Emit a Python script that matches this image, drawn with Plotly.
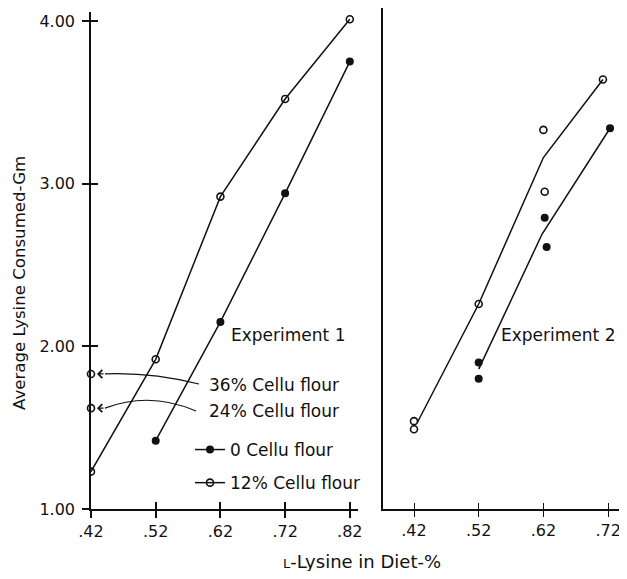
import plotly.graph_objects as go

# ---------------- data ----------------
lysine_exp1 = [0.42, 0.52, 0.62, 0.72, 0.82]
cellu0_exp1 = [None, 1.42, 2.15, 2.94, 3.75]
cellu12_exp1 = [1.23, 1.92, 2.92, 3.52, 4.01]
cellu36_x = [0.42]
cellu36_y = [1.83]
cellu24_x = [0.42]
cellu24_y = [1.62]

exp2_open_x = [0.42, 0.42, 0.52, 0.62, 0.622, 0.712]
exp2_open_y = [1.54, 1.49, 2.26, 3.33, 2.95, 3.64]
exp2_filled_x = [0.52, 0.52, 0.622, 0.625, 0.723]
exp2_filled_y = [1.90, 1.80, 2.79, 2.61, 3.34]
fit_upper_x = [0.425, 0.52, 0.62, 0.712]
fit_upper_y = [1.53, 2.26, 3.16, 3.64]
fit_lower_x = [0.52, 0.618, 0.723]
fit_lower_y = [1.86, 2.69, 3.34]

xticks_exp1 = [0.42, 0.52, 0.62, 0.72, 0.82]
xticks_exp2 = [0.42, 0.52, 0.62, 0.72]
xtick_text_exp1 = [".42", ".52", ".62", ".72", ".82"]
xtick_text_exp2 = [".42", ".52", ".62", ".72"]
yticks = [1.0, 2.0, 3.0, 4.0]
ytick_text = ["1.00", "2.00", "3.00", "4.00"]

# ---------------- layout helpers ----------------
W, H = 627, 579
OFF = 8  # page body margin offset
FW, FH = W - 2 * OFF, H - 2 * OFF
def px(p):
    return (p - OFF) / FW
def py(p):
    return 1 - (p - OFF) / FH

FONT = "DejaVu Sans, Liberation Sans, sans-serif"
BLACK = "#111111"

X_PER_UNIT = 647.0   # px per x unit
Y_PER_UNIT = 162.7   # px per y unit
X0_PX = 91          # .42 on left panel
Y0_PX = 509         # 1.00

def dx(p):
    return 0.42 + (p - X0_PX) / X_PER_UNIT
def dy(p):
    return 1.0 + (Y0_PX - p) / Y_PER_UNIT

fig = go.Figure()

line_style = dict(color=BLACK, width=1.5)
filled_marker = dict(symbol="circle", size=8, color=BLACK)
open_marker = dict(symbol="circle-open", size=7, color=BLACK, line=dict(width=1.6, color=BLACK))

# Experiment 1
fig.add_trace(go.Scatter(x=lysine_exp1, y=cellu0_exp1, mode="lines+markers",
                         line=line_style, marker=filled_marker, name="0 Cellu flour",
                         xaxis="x", yaxis="y", legendgroup="a"))
fig.add_trace(go.Scatter(x=lysine_exp1, y=cellu12_exp1, mode="lines+markers",
                         line=line_style, marker=open_marker, name="12% Cellu flour",
                         xaxis="x", yaxis="y", legendgroup="b"))
fig.add_trace(go.Scatter(x=cellu36_x, y=cellu36_y, mode="markers", marker=open_marker,
                         name="36% Cellu flour", showlegend=False, xaxis="x", yaxis="y",
                         cliponaxis=False))
fig.add_trace(go.Scatter(x=cellu24_x, y=cellu24_y, mode="markers", marker=open_marker,
                         name="24% Cellu flour", showlegend=False, xaxis="x", yaxis="y",
                         cliponaxis=False))

# Experiment 2
fig.add_trace(go.Scatter(x=fit_upper_x, y=fit_upper_y, mode="lines", line=line_style,
                         showlegend=False, xaxis="x2", yaxis="y2"))
fig.add_trace(go.Scatter(x=fit_lower_x, y=fit_lower_y, mode="lines", line=line_style,
                         showlegend=False, xaxis="x2", yaxis="y2"))
fig.add_trace(go.Scatter(x=exp2_open_x, y=exp2_open_y, mode="markers", marker=open_marker,
                         showlegend=False, xaxis="x2", yaxis="y2"))
fig.add_trace(go.Scatter(x=exp2_filled_x, y=exp2_filled_y, mode="markers", marker=filled_marker,
                         showlegend=False, xaxis="x2", yaxis="y2"))

# empty traces for overlay (inside-tick) axes
fig.add_trace(go.Scatter(x=[], y=[], xaxis="x3", yaxis="y3", showlegend=False))
fig.add_trace(go.Scatter(x=[], y=[], xaxis="x4", yaxis="y4", showlegend=False))

RIGHT_PX = OFF + FW  # right edge of what is visible
x1_range = [dx(91), dx(358)]
x2_range = [0.42 - (414 - 383) / X_PER_UNIT, 0.42 + (RIGHT_PX - 414) / X_PER_UNIT]
y1_range = [1.0, dy(12)]
y2_range = [1.0, dy(OFF)]
x1_dom = [px(91), px(358)]
x2_dom = [px(383), 1.0]
y1_dom = [py(509), py(12)]
y2_dom = [py(509), 1.0]

tickfont = dict(family=FONT, size=16, color=BLACK)
common = dict(showgrid=False, zeroline=False, showline=True, linecolor=BLACK, linewidth=1.6,
              tickcolor=BLACK, tickfont=tickfont, automargin=False, ticklabeloverflow="allow")
overlay = dict(showticklabels=False, showline=False, showgrid=False, zeroline=False,
               tickcolor=BLACK, automargin=False)

fig.update_layout(
    width=FW, height=FH,
    margin=dict(l=0, r=0, t=0, b=0, autoexpand=False),
    paper_bgcolor="white", plot_bgcolor="white",
    font=dict(family=FONT, color=BLACK),
    xaxis=dict(domain=x1_dom, range=x1_range, anchor="y", tickmode="array",
               tickvals=xticks_exp1, ticktext=xtick_text_exp1, ticks="outside",
               ticklen=7, tickwidth=1.5, **common),
    yaxis=dict(domain=y1_dom, range=y1_range, anchor="x", tickmode="array",
               tickvals=yticks, ticktext=ytick_text, ticks="outside",
               ticklen=7, tickwidth=1.5, ticklabelstandoff=4, **common),
    xaxis2=dict(domain=x2_dom, range=x2_range, anchor="y2", tickmode="array",
                tickvals=xticks_exp2, ticktext=xtick_text_exp2, ticks="outside",
                ticklen=6, tickwidth=1, **common),
    yaxis2=dict(domain=y2_dom, range=y2_range, anchor="x2", showticklabels=False,
                ticks="", **common),
    xaxis3=dict(domain=x1_dom, range=x1_range, anchor="y3", overlaying="x",
                tickvals=xticks_exp1, ticks="inside", ticklen=7, tickwidth=1.5, **overlay),
    yaxis3=dict(domain=y1_dom, range=y1_range, anchor="x3", overlaying="y",
                tickvals=yticks, ticks="inside", ticklen=7, tickwidth=1.5, **overlay),
    xaxis4=dict(domain=x2_dom, range=x2_range, anchor="y4", overlaying="x2",
                tickvals=xticks_exp2, ticks="inside", ticklen=6, tickwidth=1, **overlay),
    yaxis4=dict(domain=y2_dom, range=y2_range, anchor="x4", overlaying="y2",
                ticks="", **overlay),
    legend=dict(x=px(190), y=py(432), xanchor="left", yanchor="top",
                bgcolor="rgba(0,0,0,0)", font=dict(family=FONT, size=17, color=BLACK),
                traceorder="grouped", tracegroupgap=8, itemwidth=30),
    showlegend=True,
)

ann_font = dict(family=FONT, size=17, color=BLACK)
def label(text, x, y, xanchor="center", **kw):
    return dict(text=text, x=px(x), y=py(y), xref="paper", yref="paper",
                xanchor=xanchor, yanchor="middle", showarrow=False, **kw)

annotations = [
    label("Experiment 1", 288, 335, font=ann_font),
    label("Experiment 2", RIGHT_PX - 2, 335, xanchor="right", font=ann_font),
    label("36% Cellu flour", 207, 385, xanchor="left", font=ann_font),
    label("24% Cellu flour", 207, 411, xanchor="left", font=ann_font),
    label("Average Lysine Consumed-Gm", 19, 283, textangle=-90,
          font=dict(family=FONT, size=16.6, color=BLACK)),
    label('<span style="font-size:13px">L</span>-Lysine in Diet-%', 362, 561,
          font=dict(family=FONT, size=18, color=BLACK)),
    # arrowheads pointing at the 36% and 24% points
    dict(text="", x=cellu36_x[0], y=cellu36_y[0], xref="x", yref="y", showarrow=True,
         ax=14, ay=0, arrowhead=4, arrowsize=1.3, arrowwidth=1.2, arrowcolor=BLACK, standoff=6),
    dict(text="", x=cellu24_x[0], y=cellu24_y[0], xref="x", yref="y", showarrow=True,
         ax=14, ay=0, arrowhead=4, arrowsize=1.3, arrowwidth=1.2, arrowcolor=BLACK, standoff=6),
]
fig.update_layout(annotations=annotations)

# curved arrow shafts
tail36 = (cellu36_x[0] + 14 / X_PER_UNIT, cellu36_y[0])
tail24 = (cellu24_x[0] + 14 / X_PER_UNIT, cellu24_y[0])
path36 = f"M {dx(199)},{dy(384)} Q {dx(150)},{dy(372)} {tail36[0]},{tail36[1]}"
path24 = f"M {dx(196)},{dy(411)} Q {dx(150)},{dy(391)} {tail24[0]},{tail24[1]}"
for p in (path36, path24):
    fig.add_shape(type="path", path=p, xref="x", yref="y",
                  line=dict(color=BLACK, width=1.2))

fig.write_html("out.html")
